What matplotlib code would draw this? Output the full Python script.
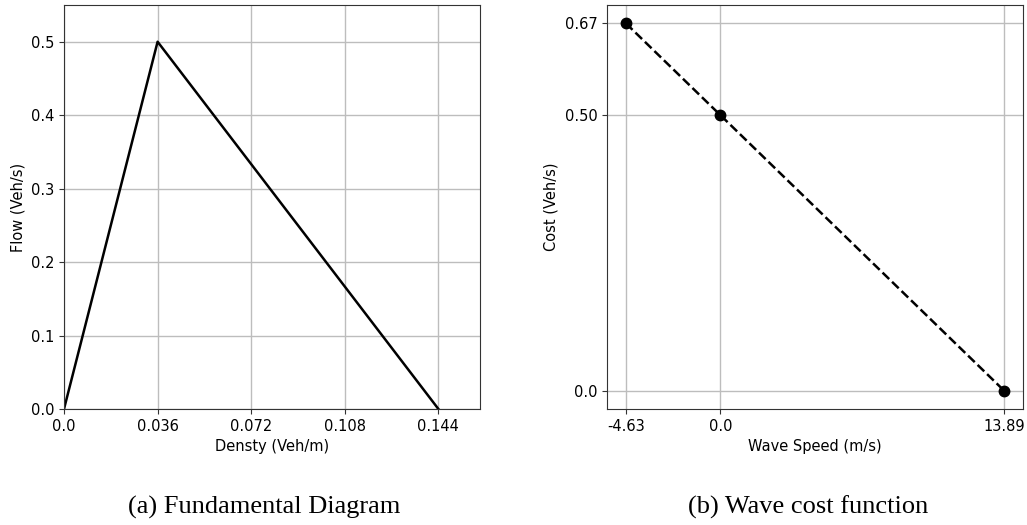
import matplotlib
matplotlib.use("Agg")
import matplotlib.pyplot as plt

# Fundamental diagram (triangular)
density = [0.0, 0.036, 0.144]
flow = [0.0, 0.5, 0.0]
density_ticks = [0.0, 0.036, 0.072, 0.108, 0.144]
density_tick_labels = ["0.0", "0.036", "0.072", "0.108", "0.144"]

# Wave cost function
wave_speed = [-4.63, 0.0, 13.89]
cost = [0.6667, 0.5, 0.0]
speed_tick_labels = ["-4.63", "0.0", "13.89"]
cost_ticks = [0.0, 0.5, 0.6667]
cost_tick_labels = ["0.0", "0.50", "0.67"]

W, H = 1027, 525
fig = plt.figure(figsize=(W / 100, H / 100), dpi=100)

ax1 = fig.add_axes([64 / W, 1 - 409 / H, 416 / W, 404 / H])
ax2 = fig.add_axes([607 / W, 1 - 409 / H, 416 / W, 404 / H])

for ax in (ax1, ax2):
    ax.grid(True, color="#bdbdbd", linewidth=1.0)
    ax.set_axisbelow(True)
    ax.tick_params(labelsize=10.5, color="#333333")
    for s in ax.spines.values():
        s.set_color("#333333")

ax1.plot(density, flow, color="black", linewidth=1.8)
ax1.set_xlim(0, 0.16)
ax1.set_ylim(0, 0.55)
ax1.set_xticks(density_ticks)
ax1.set_xticklabels(density_tick_labels)
ax1.set_yticks([0.0, 0.1, 0.2, 0.3, 0.4, 0.5])
ax1.set_xlabel("Densty (Veh/m)", fontsize=10.5)
ax1.set_ylabel("Flow (Veh/s)", fontsize=10.5)

ax2.plot(wave_speed, cost, color="black", linestyle="--", linewidth=1.8,
         marker="o", markersize=7.5)
ax2.set_xticks(wave_speed)
ax2.set_xticklabels(speed_tick_labels)
ax2.set_yticks(cost_ticks)
ax2.set_yticklabels(cost_tick_labels)
ax2.set_xlabel("Wave Speed (m/s)", fontsize=10.5)
ax2.set_ylabel("Cost (Veh/s)", fontsize=10.5)

fig.text(264 / W, 1 - 507 / H, "(a) Fundamental Diagram", ha="center",
         va="center", fontsize=19, family="Liberation Serif")
fig.text(808 / W, 1 - 507 / H, "(b) Wave cost function", ha="center",
         va="center", fontsize=19, family="Liberation Serif")

fig.savefig("out.png", dpi=100)
